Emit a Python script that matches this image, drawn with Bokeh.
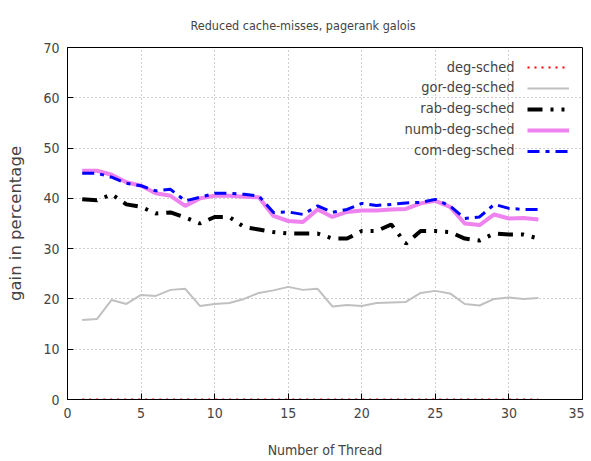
from bokeh.plotting import figure
from bokeh.models import Legend, LegendItem, Label, FixedTicker, Range1d
from bokeh.embed import file_html
from bokeh.resources import INLINE

threads = list(range(1, 33))
deg_sched = [0] * 32
gor_deg_sched = [15.8, 16.0, 19.8, 19.0, 20.8, 20.6, 21.8, 22.0, 18.6, 19.0, 19.2, 20.0,
                 21.2, 21.7, 22.4, 21.8, 22.0, 18.5, 18.8, 18.6, 19.2, 19.3, 19.4, 21.2,
                 21.6, 21.1, 19.0, 18.7, 20.0, 20.3, 20.0, 20.2]
rab_deg_sched = [39.8, 39.6, 40.8, 38.8, 38.3, 37.0, 37.2, 36.2, 35.0, 36.3, 36.3, 34.3,
                 33.8, 33.3, 33.0, 33.0, 33.0, 32.0, 32.0, 33.5, 33.5, 34.8, 31.0, 33.5,
                 33.5, 33.3, 32.0, 31.6, 33.0, 32.8, 32.8, 32.0]
numb_deg_sched = [45.5, 45.5, 44.7, 43.2, 42.5, 41.0, 40.5, 38.5, 40.0, 40.5, 40.5, 40.3,
                  40.2, 36.5, 35.5, 35.3, 37.8, 36.3, 37.3, 37.6, 37.6, 37.8, 37.9, 39.0,
                  39.5, 38.3, 35.0, 34.7, 36.8, 36.0, 36.1, 35.8]
com_deg_sched = [45.0, 45.0, 44.2, 43.0, 42.5, 41.5, 41.8, 39.5, 40.2, 41.0, 41.0, 40.8,
                 40.5, 37.2, 37.3, 36.8, 38.5, 37.2, 37.8, 39.0, 38.6, 38.8, 39.1, 39.2,
                 39.8, 38.5, 36.0, 36.3, 38.8, 38.0, 37.8, 37.8]
series_names = ["deg-sched", "gor-deg-sched", "rab-deg-sched", "numb-deg-sched", "com-deg-sched"]
x_ticks = [0, 5, 10, 15, 20, 25, 30, 35]
y_ticks = [0, 10, 20, 30, 40, 50, 60, 70]
title_text = "Reduced cache-misses, pagerank galois"

FONT = "DejaVu Sans Condensed"

p = figure(width=584, height=460, output_backend="svg", toolbar_location=None,
           x_range=Range1d(0, 35), y_range=Range1d(0, 70),
           min_border_left=67, min_border_right=2, min_border_top=47, min_border_bottom=60,
           title=title_text)
p.title.align = "left"
p.title.offset = 123
p.title.vertical_align = "top"
p.title.standoff = 26
p.title.text_font = FONT
p.title.text_font_size = "12.5px"
p.title.text_font_style = "normal"
p.outline_line_color = "black"
p.outline_line_width = 1

for ax in (p.xaxis[0], p.yaxis[0]):
    ax.major_tick_in = 6
    ax.major_tick_out = 0
    ax.minor_tick_in = 0
    ax.minor_tick_out = 0
    ax.axis_line_color = "black"
    ax.major_label_text_font = FONT
    ax.major_label_text_font_size = "14px"
    ax.axis_label_text_font_style = "normal"
p.xaxis.ticker = FixedTicker(ticks=x_ticks)
p.yaxis.ticker = FixedTicker(ticks=y_ticks)
p.xaxis.axis_label = "Number of Thread"
p.xaxis.axis_label_text_font = FONT
p.xaxis.axis_label_text_font_size = "14px"
p.xaxis.axis_label_standoff = 21
p.yaxis.axis_label = "gain in percentage"
p.yaxis.axis_label_text_font = "DejaVu Sans"
p.yaxis.axis_label_text_font_size = "16.5px"
p.yaxis.axis_label_standoff = 15
p.xaxis.major_label_standoff = 8
p.yaxis.major_label_standoff = 8

p.grid.grid_line_color = "#a0a0a0"
p.grid.grid_line_dash = "1 3"
p.xgrid.ticker = FixedTicker(ticks=x_ticks)
p.ygrid.ticker = FixedTicker(ticks=y_ticks)

r1 = p.line(threads, deg_sched, line_color="red", line_width=2, line_dash="2 5")
r2 = p.line(threads, gor_deg_sched, line_color="#c0c0c0", line_width=2)
r3 = p.line(threads, rab_deg_sched, line_color="black", line_width=4, line_dash="15 8 3 8 3 8")
r4 = p.line(threads, numb_deg_sched, line_color="violet", line_width=4)
r5 = p.line(threads, com_deg_sched, line_color="blue", line_width=3, line_dash="12 6 4 6")

rends = [r1, r2, r3, r4, r5]
legend = Legend(items=[LegendItem(label=" ", renderers=[r]) for r in rends],
                location="top_right", border_line_alpha=0, background_fill_alpha=0,
                glyph_width=42, glyph_height=20, label_height=20, label_width=0,
                label_standoff=3, spacing=1, padding=5, margin=5,
                label_text_font_size="14px")
p.add_layout(legend)

for i, n in enumerate(series_names):
    p.add_layout(Label(x=447, y=333 - i * 20.75, x_units="screen", y_units="screen",
                       text=n, text_align="right", text_baseline="middle",
                       text_font=FONT, text_font_size="14.5px"))

open("out.html", "w").write(file_html(p, INLINE))
